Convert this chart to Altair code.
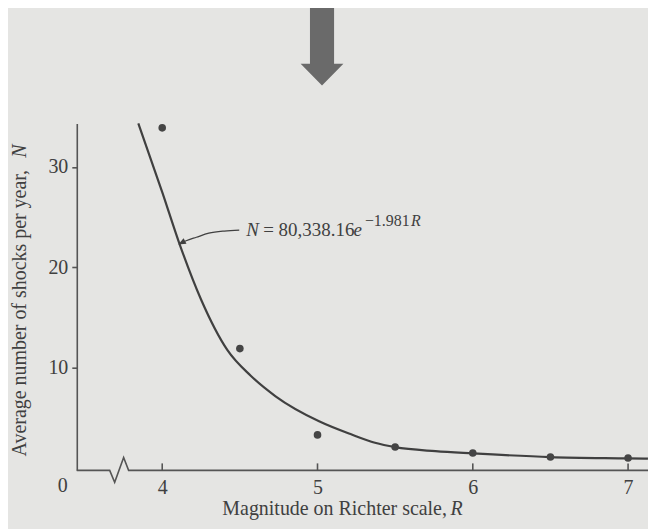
import altair as alt
import pandas as pd

# ---- data ----
obs_R = [4.0, 4.5, 5.0, 5.5, 6.0, 6.5, 7.0]
obs_N = [33.9, 11.9, 3.3, 2.1, 1.5, 1.1, 1.0]

curve_R = [3.846, 4.0, 4.11, 4.25, 4.42, 4.57, 4.73, 5.01, 5.22, 5.37, 5.5, 5.76, 6.0, 6.5, 7.0, 7.128]
curve_N = [34.34, 27.5, 22.4, 16.8, 11.75, 9.2, 7.15, 4.66, 3.34, 2.52, 2.08, 1.68, 1.46, 1.09, 0.96, 0.93]

x_ticks = [4, 5, 6, 7]
y_ticks = [10, 20, 30]

# broken x-axis line (zig-zag) in data units
break_R = [3.4498, 3.6617, 3.6938, 3.7515, 3.7836, 7.1283]
break_N = [-0.233, -0.233, -1.426, 1.058, -0.233, -0.233]

# annotation arrow (curved leader)
lead_R = [4.496, 4.40, 4.30, 4.22, 4.154, 4.125]
lead_N = [23.71, 23.62, 23.40, 23.0, 22.65, 22.45]

x_dom = [3.4498, 7.1283]
y_dom = [-0.233, 34.34]

FONT = "Liberation Serif"
INK = "#404040"
AX = "#555555"
BG = "#e5e5e3"

xs = alt.Scale(domain=x_dom, zero=False, nice=False)
ys = alt.Scale(domain=y_dom, zero=False, nice=False)

curve_df = pd.DataFrame({"R": curve_R, "N": curve_N, "i": range(len(curve_R))})
obs_df = pd.DataFrame({"R": obs_R, "N": obs_N})
brk_df = pd.DataFrame({"R": break_R, "N": break_N, "i": range(len(break_R))})
lead_df = pd.DataFrame({"R": lead_R, "N": lead_N, "i": range(len(lead_R))})
tick_df = pd.DataFrame({"R": x_ticks})
one = pd.DataFrame({"a": [0]})

curve = alt.Chart(curve_df).mark_line(color=INK, strokeWidth=2.2, interpolate="monotone").encode(
    x=alt.X("R:Q", scale=xs, axis=alt.Axis(values=x_ticks, format="d", domain=False, ticks=False, tickSize=0,
                                           labelPadding=7, grid=False, title=None,
                                           labelFont=FONT, labelFontSize=20, labelColor=INK)),
    y=alt.Y("N:Q", scale=ys, axis=alt.Axis(values=y_ticks, format="d", domain=True, domainColor=AX, domainWidth=1.6,
                                           ticks=True, tickSize=5, tickColor=AX, tickWidth=1.6,
                                           labelPadding=4, grid=False, title=None,
                                           labelFont=FONT, labelFontSize=20, labelColor=INK)),
    order="i:O",
)

points = alt.Chart(obs_df).mark_circle(color="#454545", size=58, opacity=1).encode(
    x=alt.X("R:Q", scale=xs), y=alt.Y("N:Q", scale=ys))

brk = alt.Chart(brk_df).mark_line(color=AX, strokeWidth=1.6).encode(
    x=alt.X("R:Q", scale=xs), y=alt.Y("N:Q", scale=ys), order="i:O")

xt = alt.Chart(tick_df).mark_rule(color=AX, strokeWidth=1.6).encode(
    x=alt.X("R:Q", scale=xs), y=alt.value(348), y2=alt.value(341))

lead = alt.Chart(lead_df).mark_line(color=INK, strokeWidth=1.3, interpolate="monotone").encode(
    x=alt.X("R:Q", scale=xs), y=alt.Y("N:Q", scale=ys), order="i:O")

head = alt.Chart(pd.DataFrame({"R": [lead_R[-1]], "N": [lead_N[-1]]})).mark_point(
    shape="M0,-1L0.8,1L-0.8,1Z", filled=True, color=INK, size=60, angle=242, opacity=1).encode(
    x=alt.X("R:Q", scale=xs), y=alt.Y("N:Q", scale=ys))


def txt(text, x, y, size=20, align="left", baseline="alphabetic", italic=False, angle=0):
    kw = dict(font=FONT, fontSize=size, align=align, baseline=baseline, color=INK)
    if italic:
        kw["fontStyle"] = "italic"
    if angle:
        kw["angle"] = angle
    return alt.Chart(one).mark_text(**kw).encode(x=alt.value(x), y=alt.value(y), text=alt.value(text))


texts = [
    txt("0", -14, 363.5, baseline="middle", align="center"),
    txt("Magnitude on Richter scale,", 146, 393),
    txt("R", 375, 393, italic=True),
    txt("Average number of shocks per year,", -57, 334, baseline="middle", angle=270),
    txt("N", -57, 21, baseline="middle", align="right", italic=True, angle=270),
    txt("N", 170, 113, size=19, italic=True),
    txt("= 80,338.16", 187, 113, size=19),
    txt("e", 286, 113, size=19, align="right", italic=True),
    txt("\u22121.981", 289, 103, size=16),
    txt("R", 345, 103, size=16, align="right", italic=True),
]

big_arrow = alt.Chart(one).mark_point(
    shape="M-0.31,-1L0.31,-1L0.31,0.436L0.55,0.436L0,1L-0.55,0.436L-0.31,0.436Z",
    filled=True, color="#6a6a6a", size=6084, opacity=1).encode(
    x=alt.value(246), y=alt.value(-77))

chart = alt.layer(big_arrow, brk, xt, curve, lead, head, points, *texts).properties(
    width=573, height=348,
    autosize=alt.AutoSizeParams(type="none"),
    padding={"left": 69, "top": 115, "right": 0, "bottom": 58},
    background=BG,
).configure_view(stroke=None)

chart.save("out.html", embed_options={"renderer": "svg", "actions": False})
